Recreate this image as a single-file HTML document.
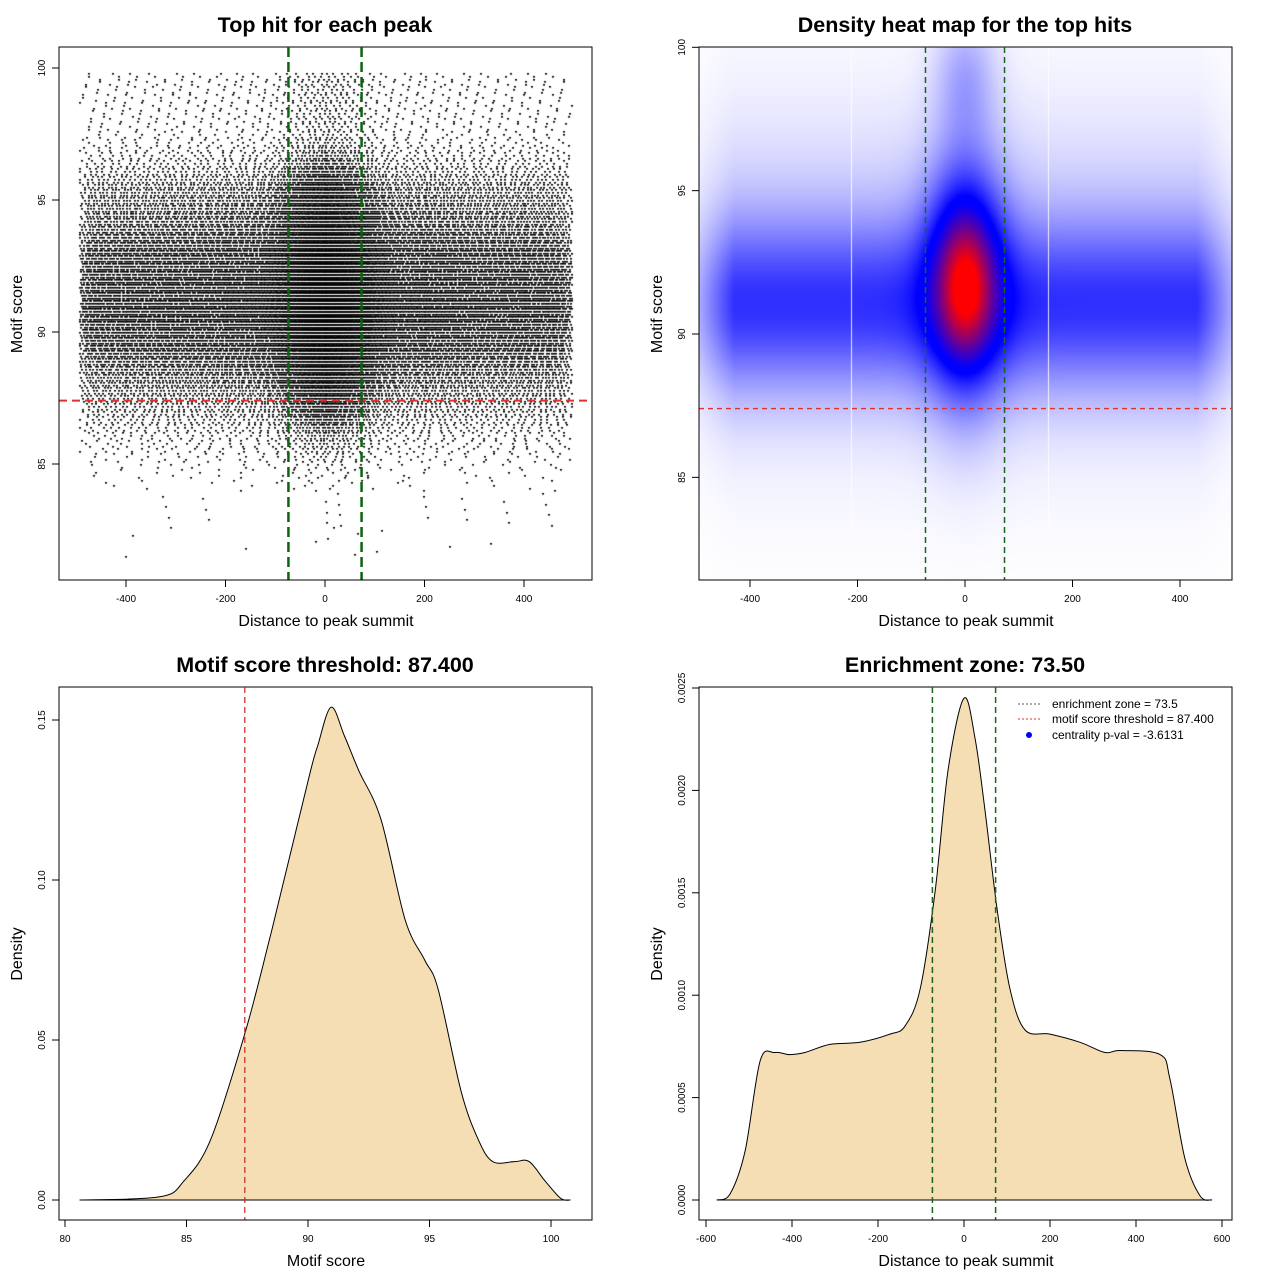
<!DOCTYPE html>
<html><head><meta charset="utf-8">
<style>
body{margin:0;background:#fff;}
#root{position:relative;width:1280px;height:1280px;overflow:hidden;font-family:"Liberation Sans",sans-serif;}
canvas{position:absolute;}
svg{position:absolute;left:0;top:0;}
</style></head>
<body>
<div id="root">
<canvas id="scatter" width="533" height="533" style="left:59px;top:47px"></canvas>
<canvas id="heat" width="533" height="533" style="left:699px;top:47px"></canvas>
<svg id="svg" width="1280" height="1280"></svg>
</div>
<script>
// ----- data -----
const scoreDensX = [80.6,83.9,84.9,86.0,87.4,88.4,89.3,90.1,90.4,90.95,91.5,92.1,93.0,94.0,94.8,95.35,96.3,97.0,97.6,98.5,99.1,99.75,100.4,100.8];
const scoreDensY = [0,0.001,0.006,0.019,0.052,0.081,0.109,0.134,0.142,0.154,0.145,0.134,0.119,0.0875,0.075,0.066,0.034,0.019,0.012,0.012,0.012,0.006,0.0005,0];
const distDensX = [-575,-544,-509,-474,-440,-405,-370,-312,-242,-172,-137,-102,-67,-37,0,26,49,77,107,142,200,270,328,363,456,479,514,549,577];
const distDensY = [0,0.00003,0.00024,0.00068,0.00072,0.00071,0.00072,0.00076,0.00077,0.00081,0.00085,0.00103,0.00151,0.0021,0.00245,0.00225,0.0019,0.00142,0.00103,0.00083,0.00081,0.00077,0.00072,0.00073,0.00071,0.00059,0.0002,0.00002,0];
const threshold = 87.4;
const zone = 73.5;
const xTicksDist = [-400,-200,0,200,400];
const xTicksDist4 = [-600,-400,-200,0,200,400,600];
const yTicksScore = [85,90,95,100];
const xTicksScore = [80,85,90,95,100];
const yTicksDens3 = [0,0.05,0.10,0.15];
const yTicksDens3Lab = ["0.00","0.05","0.10","0.15"];
const yTicksDens4 = [0,0.0005,0.001,0.0015,0.002,0.0025];
const yTicksDens4Lab = ["0.0000","0.0005","0.0010","0.0015","0.0020","0.0025"];

// ----- scales -----
const P1 = {sx:v=>325+v*0.4975, sy:v=>332-(v-90)*26.4};
const P2 = {sx:v=>965+v*0.5375, sy:v=>334-(v-90)*28.67};
const P3 = {sx:v=>65+(v-80)*24.3, sy:v=>1200-v*3200};
const P4 = {sx:v=>964+v*0.43, sy:v=>1200-v*204800};

const NS='http://www.w3.org/2000/svg';
const svg=document.getElementById('svg');
function el(tag,attrs,name,parent){const e=document.createElementNS(NS,tag);for(const k in attrs)e.setAttribute(k,attrs[k]);
 
 
 (parent||svg).appendChild(e);return e;}
function txt(x,y,s,size,name,opts){opts=opts||{};const t=el('text',{x:x,y:y,'font-size':size,'text-anchor':opts.anchor||'middle','font-weight':opts.bold?'bold':'normal','fill':'#000','font-family':'"Liberation Sans",sans-serif'},name);
 if(opts.rot)t.setAttribute('transform','rotate(-90 '+x+' '+y+')');t.textContent=s;return t;}
function interp(xs,ys,v){if(v<=xs[0])return ys[0];for(let i=1;i<xs.length;i++){if(v<=xs[i]){const t=(v-xs[i-1])/(xs[i]-xs[i-1]);return ys[i-1]+t*(ys[i]-ys[i-1]);}}return ys[ys.length-1];}

function frame(x0,y0,title,name){
 el('rect',{x:x0,y:y0,width:533,height:533,fill:'none',stroke:'#000','stroke-width':1},name+'-frame');
 txt(x0+266,y0-15,title,21.5,name+'-title',{bold:true});
}
function xaxis(P,ticks,labs,y0,name){
 ticks.forEach((v,i)=>{const x=P.sx(v);el('line',{x1:x,y1:y0,x2:x,y2:y0+7,stroke:'#000'},name+'-x-tick');
  txt(x,y0+22,labs?labs[i]:String(v),10,name+'-x-tick-label');});
 el('line',{x1:P.sx(ticks[0]),y1:y0,x2:P.sx(ticks[ticks.length-1]),y2:y0,stroke:'#000'},name+'-x-axis-line');
}
function xlabel(cx,y,label,name){txt(cx,y,label,16,name+'-x-axis-title');}
function yaxis(P,ticks,labs,x0,name){
 ticks.forEach((v,i)=>{const y=P.sy(v);el('line',{x1:x0,y1:y,x2:x0-7,y2:y,stroke:'#000'},name+'-y-tick');
  txt(x0-14,y,labs?labs[i]:String(v),10,name+'-y-tick-label',{rot:true});});
 el('line',{x1:x0,y1:P.sy(ticks[0]),x2:x0,y2:P.sy(ticks[ticks.length-1]),stroke:'#000'},name+'-y-axis-line');
}
function ylabel(x,cy,label,name){txt(x,cy,label,16,name+'-y-axis-title',{rot:true});}

// ----- panel 1 scatter -----
(function(){
 const c=document.getElementById('scatter').getContext('2d');c.fillStyle='#000';
 const xs=[],cdf=[];let acc=0;for(let v=-495;v<=495;v+=1){acc+=interp(distDensX,distDensY,v);xs.push(v);cdf.push(acc);}
 const tot=acc;const N=25000;const g=0.6180339887;
 let seq=0,row=0;
 for(let s=81.5;s<=99.85;s+=0.1){row++;
  let d=interp(scoreDensX,scoreDensY,s);
  if(s>96)d=Math.max(d,0.012);
  const n=Math.round(N*d*0.1);
  const off=(row*0.7548776662)%1;
  for(let k=0;k<n;k++){seq=(seq+g)%1;const u=((k+off+0.5*seq)/n)%1*tot;
   let lo=0,hi=cdf.length-1;while(lo<hi){const m=(lo+hi)>>1;if(cdf[m]<u)lo=m+1;else hi=m;}
   const x=P1.sx(xs[lo])-59,y=P1.sy(s)-47;c.fillRect(Math.round(x),Math.round(y),2,1.6);}
 }
})();
frame(59,47,'Top hit for each peak','panel1');
el('line',{x1:59,y1:P1.sy(threshold),x2:592,y2:P1.sy(threshold),stroke:'#e03030','stroke-width':2,'stroke-dasharray':'8,5'},'panel1-threshold-line');
[-zone,zone].forEach(z=>el('line',{x1:P1.sx(z),y1:47,x2:P1.sx(z),y2:580,stroke:'#0a6410','stroke-width':2.5,'stroke-dasharray':'10,5'},'panel1-zone-line'));
xaxis(P1,xTicksDist,null,580,'panel1');yaxis(P1,yTicksScore,null,59,'panel1');
xlabel(326,626,'Distance to peak summit','panel1');ylabel(22,314,'Motif score','panel1');

// ----- panel 2 heatmap -----
const bandComp=[0.5,91,2.0];
const hazeComp=[0.2,92,4.0];
const colComp=[0.85,92.5,3.2,2.6,50];
const peakComp=[0.6,91.6,1.4,30];
const topComp=[0.25,99,1.6,40];
(function(){
 const cv=document.getElementById('heat');const c=cv.getContext('2d');const im=c.createImageData(533,533);
 for(let py=0;py<533;py++){const y=90-(py+47-334)/28.67;
  for(let px=0;px<533;px++){const x=(px+699-965)/0.5375;
   const edge=Math.abs(x)<430?1:Math.max(0.3,1-(Math.abs(x)-430)/110);
   const csd=y<colComp[1]?colComp[2]:colComp[3];
   let v=bandComp[0]*Math.exp(-((y-bandComp[1])**2)/(2*bandComp[2]**2))*edge
    +hazeComp[0]*Math.exp(-((y-hazeComp[1])**2)/(2*hazeComp[2]**2))*edge
    +colComp[0]*Math.exp(-x*x/(2*colComp[4]**2))*Math.exp(-((y-colComp[1])**2)/(2*csd**2))
    +peakComp[0]*Math.exp(-x*x/(2*peakComp[3]**2))*Math.exp(-((y-peakComp[1])**2)/(2*peakComp[2]**2))
    +topComp[0]*Math.exp(-x*x/(2*topComp[3]**2))*Math.exp(-((y-topComp[1])**2)/(2*topComp[2]**2));
   let r,g,b;
   if(v<0.85){const t=v/0.85;r=255*(1-t);g=255*(1-t);b=255;}
   else if(v<0.95){r=0;g=0;b=255;}
   else{const t=Math.min(1,(v-0.95)/0.95);r=255*t;g=0;b=255*(1-t);}
   const i=(py*533+px)*4;im.data[i]=r;im.data[i+1]=g;im.data[i+2]=b;im.data[i+3]=255;}}
 c.putImageData(im,0,0);
 c.fillStyle='rgba(255,255,255,0.85)';c.fillRect(851-699,0,1,480);c.fillRect(1048-699,0,1,480);
})();
frame(699,47,'Density heat map for the top hits','panel2');
el('line',{x1:699,y1:P2.sy(threshold),x2:1232,y2:P2.sy(threshold),stroke:'#e03030','stroke-width':1.3,'stroke-dasharray':'5,4'},'panel2-threshold-line');
[-zone,zone].forEach(z=>el('line',{x1:P2.sx(z),y1:47,x2:P2.sx(z),y2:580,stroke:'#1a6420','stroke-width':1.5,'stroke-dasharray':'6,4'},'panel2-zone-line'));
xaxis(P2,xTicksDist,null,580,'panel2');yaxis(P2,yTicksScore,null,699,'panel2');
xlabel(966,626,'Distance to peak summit','panel2');ylabel(662,314,'Motif score','panel2');

// ----- smooth path helper -----
function smoothPath(P,xs,ys){const pts=xs.map((x,i)=>[P.sx(x),P.sy(ys[i])]);let d='M'+pts[0][0]+','+pts[0][1];
 for(let i=0;i<pts.length-1;i++){const p0=pts[i-1]||pts[i],p1=pts[i],p2=pts[i+1],p3=pts[i+2]||p2;
  const c1=[p1[0]+(p2[0]-p0[0])/6,p1[1]+(p2[1]-p0[1])/6],c2=[p2[0]-(p3[0]-p1[0])/6,p2[1]-(p3[1]-p1[1])/6];
  d+=' C'+c1[0]+','+c1[1]+' '+c2[0]+','+c2[1]+' '+p2[0]+','+p2[1];}return d;}

// ----- panel 3 -----
frame(59,687,'Motif score threshold: 87.400','panel3');
el('path',{d:smoothPath(P3,scoreDensX,scoreDensY)+' Z',fill:'#f5deb3',stroke:'#000','stroke-width':1},'score-density-curve');
el('line',{x1:P3.sx(threshold),y1:687,x2:P3.sx(threshold),y2:1220,stroke:'#d02020','stroke-width':1.2,'stroke-dasharray':'6,4'},'panel3-threshold-line');
xaxis(P3,xTicksScore,null,1220,'panel3');yaxis(P3,yTicksDens3,yTicksDens3Lab,59,'panel3');
xlabel(326,1266,'Motif score','panel3');ylabel(22,954,'Density','panel3');

// ----- panel 4 -----
frame(699,687,'Enrichment zone: 73.50','panel4');
el('path',{d:smoothPath(P4,distDensX,distDensY)+' Z',fill:'#f5deb3',stroke:'#000','stroke-width':1},'distance-density-curve');
[-zone,zone].forEach(z=>el('line',{x1:P4.sx(z),y1:687,x2:P4.sx(z),y2:1220,stroke:'#1a6420','stroke-width':1.5,'stroke-dasharray':'6,4'},'panel4-zone-line'));
xaxis(P4,xTicksDist4,null,1220,'panel4');yaxis(P4,yTicksDens4,yTicksDens4Lab,699,'panel4');
xlabel(966,1266,'Distance to peak summit','panel4');ylabel(662,954,'Density','panel4');
// legend
el('line',{x1:1018,y1:704,x2:1042,y2:704,stroke:'#555','stroke-dasharray':'2,2'},'legend-zone-swatch');
txt(1052,708,'enrichment zone = 73.5',12,'legend-zone-label',{anchor:'start'});
el('line',{x1:1018,y1:719,x2:1042,y2:719,stroke:'#e03030','stroke-dasharray':'2,2'},'legend-threshold-swatch');
txt(1052,723,'motif score threshold = 87.400',12,'legend-threshold-label',{anchor:'start'});
el('circle',{cx:1029,cy:735,r:3,fill:'#0000ff'},'legend-pval-marker');
txt(1052,739,'centrality p-val = -3.6131',12,'legend-pval-label',{anchor:'start'});
</script>
</body></html>
